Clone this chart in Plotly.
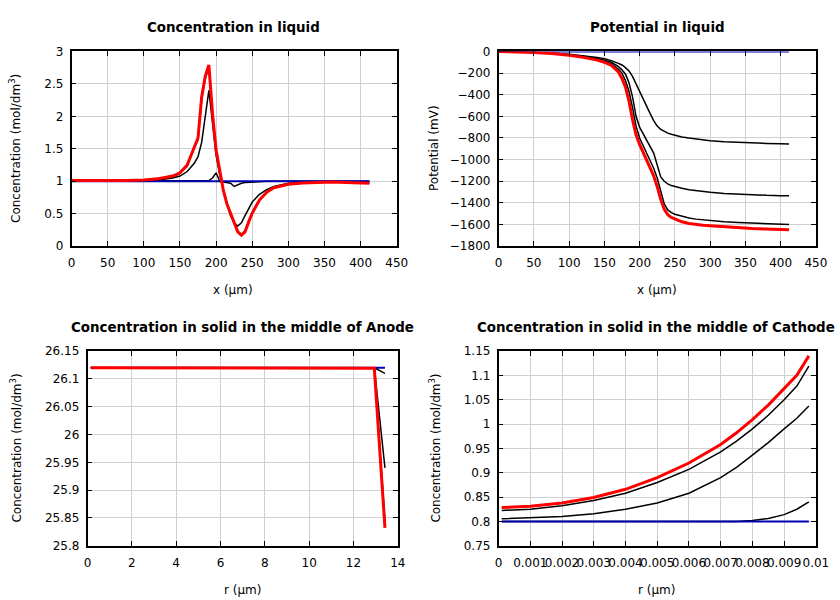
import plotly.graph_objects as go

# ---------------- data ----------------
# Concentration in liquid (x in um)
x_liq = [0, 25, 50, 75, 100, 120, 140, 150, 160, 170, 175, 180, 185, 190, 195, 200, 205,
         210, 215, 220, 225, 230, 235, 240, 245, 250, 260, 270, 280, 290, 300, 320, 340,
         360, 380, 400, 412]
c_liq_t0 = [1.0] * 37
c_liq_t1 = [1.0, 1.0, 1.0, 1.0, 1.0, 1.0, 1.0, 1.0, 1.0, 1.0, 1.0, 1.0, 1.0, 1.01, 1.05, 1.13, 1.0,
            0.99, 0.98, 0.97, 0.92, 0.95, 0.97, 0.98, 0.985, 0.99, 0.99, 1.0, 1.0, 1.0, 1.0, 1.0, 1.0,
            1.0, 1.0, 1.0, 1.0]
c_liq_t2 = [1.0, 1.0, 1.0, 1.0, 1.01, 1.02, 1.05, 1.08, 1.15, 1.28, 1.38, 1.6, 2.0, 2.4, 1.9, 1.4, 1.1,
            0.85, 0.65, 0.47, 0.36, 0.31, 0.36, 0.47, 0.58, 0.68, 0.8, 0.87, 0.92, 0.95, 0.97, 0.985, 0.99,
            0.99, 0.985, 0.98, 0.98]
c_liq_t3 = [1.01, 1.01, 1.005, 1.01, 1.02, 1.04, 1.07, 1.12, 1.23, 1.52, 1.64, 2.25, 2.58, 2.76, 2.02, 1.46, 1.14,
            0.86, 0.66, 0.5, 0.36, 0.23, 0.18, 0.24, 0.38, 0.52, 0.72, 0.84, 0.9, 0.93, 0.955, 0.975, 0.985,
            0.99, 0.98, 0.975, 0.97]
c_liq_t4 = [1.01, 1.01, 1.005, 1.01, 1.02, 1.04, 1.08, 1.13, 1.25, 1.55, 1.67, 2.3, 2.62, 2.79, 2.05, 1.48, 1.15,
            0.86, 0.65, 0.5, 0.35, 0.22, 0.17, 0.22, 0.37, 0.51, 0.71, 0.83, 0.9, 0.93, 0.955, 0.975, 0.985,
            0.99, 0.98, 0.975, 0.97]

# Potential in liquid (mV)
p_liq_t0 = [0.0] * 37
p_liq_t1 = [0, -3, -8, -15, -25, -38, -55, -68, -85, -110, -125, -150, -180, -230, -300, -380, -445,
            -510, -575, -640, -690, -720, -740, -755, -765, -775, -790, -800, -810, -818, -825, -835, -842,
            -847, -850, -853, -855]
p_liq_t2 = [0, -3, -9, -17, -30, -45, -65, -80, -100, -140, -170, -210, -290, -420, -600, -700, -760,
            -810, -870, -940, -1050, -1160, -1200, -1225, -1240, -1250, -1265, -1278, -1287, -1295, -1302, -1312, -1320,
            -1325, -1330, -1333, -1335]
p_liq_t3 = [0, -3, -10, -19, -33, -50, -72, -90, -115, -165, -200, -270, -370, -520, -690, -800, -870,
            -935, -1000, -1080, -1170, -1300, -1410, -1465, -1490, -1505, -1525, -1540, -1550, -1558, -1565, -1575, -1582,
            -1588, -1593, -1597, -1600]
p_liq_t4 = [0, -3, -10, -20, -35, -55, -80, -100, -130, -190, -250, -330, -460, -630, -770, -860, -930,
            -1000, -1070, -1150, -1250, -1370, -1460, -1510, -1535, -1550, -1575, -1590, -1600, -1607, -1612, -1622, -1630,
            -1637, -1642, -1645, -1648]

# Concentration in solid, middle of anode (r in um)
r_an = [0.15, 2, 4, 6, 8, 10, 12, 12.94, 13.42]
c_an_t0 = [26.12, 26.12, 26.12, 26.12, 26.12, 26.12, 26.12, 26.12, 26.12]
c_an_t1 = [26.12, 26.12, 26.12, 26.12, 26.12, 26.12, 26.12, 26.12, 26.11]
c_an_t2 = [26.12, 26.12, 26.12, 26.12, 26.12, 26.12, 26.12, 26.12, 25.94]
c_an_t3 = [26.12, 26.12, 26.12, 26.12, 26.12, 26.12, 26.12, 26.12, 25.845]
c_an_t4 = [26.12, 26.12, 26.12, 26.12, 26.12, 26.12, 26.12, 26.119, 25.832]

# Concentration in solid, middle of cathode (r in um)
r_ca = [0.0001, 0.001, 0.002, 0.003, 0.004, 0.005, 0.006, 0.007, 0.0075, 0.008, 0.0085, 0.009, 0.0094, 0.00978]
c_ca_t0 = [0.8] * 14
c_ca_t1 = [0.8, 0.8, 0.8, 0.8, 0.8, 0.8, 0.8, 0.8, 0.8, 0.802, 0.806, 0.814, 0.825, 0.84]
c_ca_t2 = [0.8054, 0.807, 0.81, 0.816, 0.825, 0.838, 0.858, 0.89, 0.911, 0.936, 0.962, 0.99, 1.012, 1.037]
c_ca_t3 = [0.8226, 0.825, 0.832, 0.843, 0.858, 0.88, 0.907, 0.943, 0.965, 0.99, 1.018, 1.05, 1.078, 1.119]
c_ca_t4 = [0.8286, 0.831, 0.838, 0.849, 0.866, 0.89, 0.92, 0.958, 0.982, 1.009, 1.039, 1.072, 1.1, 1.14]

# ---------------- styling ----------------
W, H = 840, 600
FONT = "DejaVu Sans"
BLACK = "#000000"
RED = "#ff0000"
BLUE = "#0000b0"
GRID = "#d0d0d0"

# target pixel -> paper fraction (compensates the small shrink seen in the capture)
def px_x(p):
    return ((p - 2.3) / 0.982) / W

def px_y(p):
    return 1 - ((p - 6.5) / 0.978) / H

fig = go.Figure()

def add_series(x, ys, xa, ya):
    # ys: [t0 (blue), t1, t2, t3 (black), t4 (red)]
    for y in ys[1:4]:
        fig.add_trace(go.Scatter(x=x, y=y, mode="lines", xaxis=xa, yaxis=ya,
                                 line=dict(color=BLACK, width=1.5), showlegend=False))
    fig.add_trace(go.Scatter(x=x, y=ys[0], mode="lines", xaxis=xa, yaxis=ya,
                             line=dict(color=BLUE, width=2), showlegend=False))
    fig.add_trace(go.Scatter(x=x, y=ys[4], mode="lines", xaxis=xa, yaxis=ya,
                             line=dict(color=RED, width=3), showlegend=False))

add_series(x_liq, [c_liq_t0, c_liq_t1, c_liq_t2, c_liq_t3, c_liq_t4], "x", "y")
add_series(x_liq, [p_liq_t0, p_liq_t1, p_liq_t2, p_liq_t3, p_liq_t4], "x2", "y2")
add_series(r_an, [c_an_t0, c_an_t1, c_an_t2, c_an_t3, c_an_t4], "x3", "y3")
add_series(r_ca, [c_ca_t0, c_ca_t1, c_ca_t2, c_ca_t3, c_ca_t4], "x4", "y4")

def ax(domain, rng, dtick, anchor, is_x):
    return dict(domain=domain, range=rng, dtick=dtick, tick0=0 if is_x else rng[0], anchor=anchor,
                showline=True, linecolor=BLACK, linewidth=1.5, mirror="allticks",
                ticks="inside", ticklen=5, tickwidth=1, tickcolor=BLACK,
                showgrid=True, gridcolor=GRID, gridwidth=1, zeroline=False,
                tickfont=dict(family=FONT, size=12, color=BLACK), tickangle=0,
                ticklabelstandoff=5 if is_x else 4)

# plot areas in target pixels
TLx = [70, 396]; TRx = [498, 816]
BLx = [86, 397]; BRx = [498, 816]
TOPy = [51, 246]; BOTy = [351, 546]

fig.update_layout(
    width=W, height=H, margin=dict(l=0, r=0, t=0, b=0),
    paper_bgcolor="white", plot_bgcolor="white",
    font=dict(family=FONT, size=12, color=BLACK),
    xaxis=ax([px_x(TLx[0]), px_x(TLx[1])], [0, 450], 50, "y", True),
    yaxis=ax([px_y(TOPy[1]), px_y(TOPy[0])], [0, 3], 0.5, "x", False),
    xaxis2=ax([px_x(TRx[0]), px_x(TRx[1])], [0, 450], 50, "y2", True),
    yaxis2=ax([px_y(TOPy[1]), px_y(TOPy[0])], [-1800, 0], 200, "x2", False),
    xaxis3=ax([px_x(BLx[0]), px_x(BLx[1])], [0, 14], 2, "y3", True),
    yaxis3=ax([px_y(BOTy[1]), px_y(BOTy[0])], [25.8, 26.15], 0.05, "x3", False),
    xaxis4=ax([px_x(BRx[0]), px_x(BRx[1])], [0, 0.01], 0.001, "y4", True),
    yaxis4=ax([px_y(BOTy[1]), px_y(BOTy[0])], [0.75, 1.15], 0.05, "x4", False),
)

def ann(text, x, y, bold=False, angle=0, size=12):
    fig.add_annotation(text=f"<b>{text}</b>" if bold else text, x=px_x(x), y=px_y(y),
                       xref="paper", yref="paper", showarrow=False, textangle=angle,
                       xanchor="center", yanchor="middle",
                       font=dict(family=FONT, size=size, color=BLACK))

# subplot titles
ann("Concentration in liquid", 232, 27, bold=True, size=13.4)
ann("Potential in liquid", 657, 27, bold=True, size=13.4)
ann("Concentration in solid in the middle of Anode", 241, 327, bold=True, size=13.4)
ann("Concentration in solid in the middle of Cathode", 656, 327, bold=True, size=13.4)
# x axis titles
ann("x (μm)", 232, 290)
ann("x (μm)", 657, 290)
ann("r (μm)", 241, 590)
ann("r (μm)", 656, 590)
# y axis titles
ann("Concentration (mol/dm<sup>3</sup>)", 14, 148, angle=-90)
ann("Potential (mV)", 434, 148, angle=-90)
ann("Concentration (mol/dm<sup>3</sup>)", 14, 448, angle=-90)
ann("Concentration (mol/dm<sup>3</sup>)", 434, 448, angle=-90)

fig.write_html("out.html")
